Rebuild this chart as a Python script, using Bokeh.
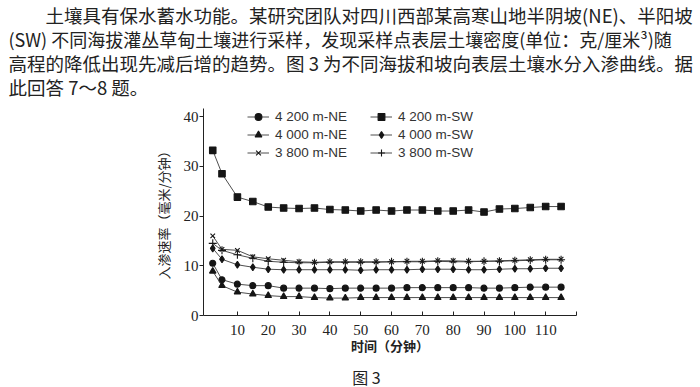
from bokeh.plotting import figure
from bokeh.layouts import column
from bokeh.models import Range1d, FixedTicker, Label, Legend, LegendItem, ColumnDataSource
from bokeh.embed import file_html
from bokeh.resources import INLINE

# ---------------- data ----------------
time_min = [2, 5, 10, 15, 20, 25, 30, 35, 40, 45, 50, 55, 60, 65, 70, 75, 80, 85, 90, 95, 100, 105, 110, 115]

ne_4200 = [10.5, 7.2, 6.3, 6.0, 6.0, 5.5, 5.5, 5.5, 5.4, 5.5, 5.5, 5.5, 5.5, 5.6, 5.6, 5.6, 5.6, 5.6, 5.5, 5.5, 5.6, 5.7, 5.7, 5.7]
sw_4200 = [33.2, 28.5, 23.8, 22.9, 21.8, 21.6, 21.5, 21.6, 21.3, 21.2, 21.0, 21.2, 21.0, 21.2, 21.2, 21.0, 21.0, 21.2, 20.8, 21.4, 21.5, 21.7, 21.9, 21.9]
ne_4000 = [8.9, 6.0, 4.7, 4.3, 4.0, 3.8, 3.8, 3.6, 3.5, 3.5, 3.6, 3.6, 3.6, 3.6, 3.6, 3.6, 3.6, 3.6, 3.6, 3.6, 3.6, 3.6, 3.6, 3.6]
sw_4000 = [13.5, 11.3, 10.2, 9.7, 9.3, 9.2, 9.2, 9.2, 9.2, 9.2, 9.1, 9.2, 9.2, 9.2, 9.3, 9.3, 9.3, 9.2, 9.2, 9.3, 9.4, 9.4, 9.5, 9.5]
ne_3800 = [16.0, 13.3, 13.1, 11.8, 11.4, 11.1, 10.8, 10.7, 10.8, 10.8, 10.8, 10.8, 10.8, 10.9, 10.9, 11.0, 11.0, 10.9, 10.9, 11.0, 11.1, 11.2, 11.3, 11.3]
sw_3800 = [14.5, 13.1, 12.2, 11.5, 10.9, 10.7, 10.6, 10.6, 10.7, 10.7, 10.7, 10.7, 10.8, 10.8, 10.8, 10.9, 10.8, 10.8, 10.9, 10.9, 11.0, 11.1, 11.2, 11.2]

series_labels = ["4 200 m-NE", "4 200 m-SW", "4 000 m-NE", "4 000 m-SW", "3 800 m-NE", "3 800 m-SW"]
series_values = [ne_4200, sw_4200, ne_4000, sw_4000, ne_3800, sw_3800]

x_ticks = [10, 20, 30, 40, 50, 60, 70, 80, 90, 100, 110, 120]
y_ticks = [0, 10, 20, 30, 40]

x_title = "时间（分钟）"
y_title = "入渗速率（毫米/分钟）"
caption = "图 3"
paragraph = [
    "土壤具有保水蓄水功能。某研究团队对四川西部某高寒山地半阴坡(NE)、半阳坡",
    "(SW) 不同海拔灌丛草甸土壤进行采样，发现采样点表层土壤密度(单位：克/厘米³)随",
    "高程的降低出现先减后增的趋势。图 3 为不同海拔和坡向表层土壤水分入渗曲线。据",
    "此回答 7～8 题。",
]

# ---------------- layout (page pixels) ----------------
W = 700
TOP_H, CHART_H, CAP_H = 108, 252, 27
FL, FR = 203, 576          # frame left/right
FRAME_H = 207              # frame from page y 108 to 315
PX_PER_UNIT = (315 - 116) / 40.0
ink = "#222222"
cjk = "Noto Sans CJK SC"

def text_panel(h):
    f = figure(width=W, height=h, output_backend="svg", toolbar_location=None,
               x_range=Range1d(0, W), y_range=Range1d(h, 0),
               x_axis_location=None, y_axis_location=None, min_border=0,
               background_fill_color="white", border_fill_color="white")
    f.outline_line_color = None
    f.grid.visible = False
    f.frame_align = False
    return f

# paragraph above the chart
top = text_panel(TOP_H)
para_pos = [(45, 14), (8, 38), (8, 62), (8, 86)]
para_size = ["18.5px", "18px", "18.5px", "18.5px"]
for txt, (fx, fy), fs in zip(paragraph, para_pos, para_size):
    top.add_layout(Label(x=fx, y=fy, text=txt, text_font=cjk, text_font_size=fs,
                         text_color=ink, text_align="left", text_baseline="middle"))

# chart
p = figure(width=W, height=CHART_H, output_backend="svg", toolbar_location=None,
           x_range=Range1d(-1, 120), y_range=Range1d(0, FRAME_H / PX_PER_UNIT),
           min_border_left=FL, min_border_right=W - FR,
           min_border_top=0, min_border_bottom=CHART_H - FRAME_H,
           background_fill_color="white", border_fill_color="white")
p.outline_line_color = None
p.grid.visible = False
p.frame_align = False

xa = p.xaxis[0]
xa.ticker = FixedTicker(ticks=x_ticks)
xa.major_label_overrides = {120: ""}
xa.major_tick_in = 4
xa.major_tick_out = 0
xa.minor_tick_line_color = None
xa.axis_line_color = ink
xa.major_tick_line_color = ink
xa.major_label_text_font = "Liberation Serif"
xa.major_label_text_font_size = "15px"
xa.major_label_text_color = ink
xa.major_label_standoff = 9
xa.axis_label = x_title
xa.axis_label_text_font = cjk
xa.axis_label_text_font_size = "13px"
xa.axis_label_text_font_style = "bold"
xa.axis_label_text_color = ink
xa.axis_label_standoff = -2

ya = p.yaxis[0]
ya.ticker = FixedTicker(ticks=y_ticks)
ya.major_tick_in = 0
ya.major_tick_out = 4
ya.minor_tick_line_color = None
ya.axis_line_color = ink
ya.major_tick_line_color = ink
ya.major_label_text_font = "Liberation Serif"
ya.major_label_text_font_size = "15px"
ya.major_label_text_color = ink
ya.major_label_standoff = 1
ya.axis_label = y_title
ya.axis_label_text_font = cjk
ya.axis_label_text_font_size = "13px"
ya.axis_label_text_font_style = "normal"
ya.axis_label_text_color = ink
ya.axis_label_standoff = 8

markers = ["circle", "square", "triangle", "diamond", "x", "cross"]
sizes = [6, 6.5, 6.5, 7, 6.5, 8]

items = []
for lab, vals, mk, sz in zip(series_labels, series_values, markers, sizes):
    src = ColumnDataSource(dict(t=time_min, v=vals))
    rl = p.line("t", "v", source=src, line_color="#3a3a3a", line_width=0.9)
    rm = p.scatter("t", "v", source=src, marker=mk, size=sz,
                   fill_color="#151515", line_color="#151515", line_width=1.1)
    items.append(LegendItem(label=lab, renderers=[rl, rm]))

ROW_H, ROW_GAP = 17, 1
LEG_H = 3 * ROW_H + 2 * ROW_GAP

def make_legend(its, vx):
    lg = Legend(items=its, location=(vx, FRAME_H - LEG_H))
    lg.padding = 0
    lg.margin = 0
    lg.spacing = ROW_GAP
    lg.glyph_height = ROW_H
    lg.glyph_width = 22
    lg.label_height = ROW_H
    lg.label_standoff = 6
    lg.label_text_font = "Liberation Sans"
    lg.label_text_font_size = "13.5px"
    lg.label_text_color = "#333333"
    lg.border_line_color = None
    lg.background_fill_alpha = 0
    return lg

p.add_layout(make_legend([items[0], items[2], items[4]], 44))
p.add_layout(make_legend([items[1], items[3], items[5]], 167))

# caption below
cap = text_panel(CAP_H)
cap.add_layout(Label(x=366, y=16, text=caption, text_font=cjk, text_font_size="16px",
                     text_color=ink, text_align="center", text_baseline="middle"))

layout = column(top, p, cap, spacing=0)
open("out.html", "w").write(file_html(layout, INLINE))
